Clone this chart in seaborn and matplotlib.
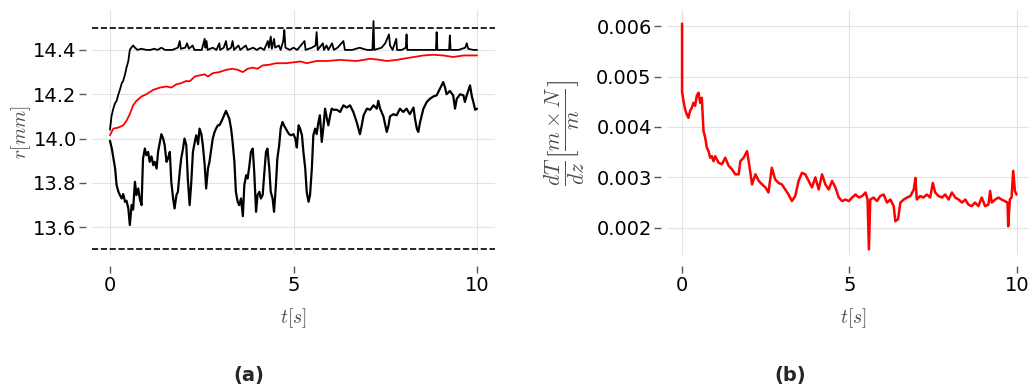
import matplotlib
matplotlib.use("Agg")
import matplotlib.pyplot as plt
import numpy as np
import seaborn as sns
import pandas as pd

# ---- (a) radius, upper / lower envelope and mean ----
t_up = [0.00, 0.04, 0.09, 0.14, 0.18, 0.23, 0.27, 0.32, 0.36, 0.41, 0.45, 0.50, 0.54, 0.58, 0.63,
        0.68, 0.75, 0.85, 1.00, 1.10, 1.20, 1.30, 1.40, 1.50, 1.70, 1.85, 1.90, 1.93, 2.05, 2.10,
        2.15, 2.25, 2.30, 2.50, 2.58, 2.60, 2.63, 2.66, 2.80, 2.90, 2.98, 3.00, 3.10, 3.16, 3.20,
        3.30, 3.34, 3.38, 3.50, 3.55, 3.70, 3.75, 3.90, 4.00, 4.10, 4.20, 4.30, 4.33, 4.38, 4.41,
        4.47, 4.50, 4.60, 4.65, 4.72, 4.75, 4.78, 4.90, 5.00, 5.10, 5.30, 5.33, 5.50, 5.60, 5.63,
        5.66, 5.80, 5.83, 5.90, 5.95, 6.05, 6.10, 6.20, 6.36, 6.40, 6.60, 6.80, 7.00, 7.15, 7.18,
        7.20, 7.40, 7.50, 7.55, 7.60, 7.63, 7.70, 7.80, 7.82, 7.95, 8.06, 8.08, 8.10, 8.30, 8.50,
        8.70, 8.88, 8.90, 8.92, 9.10, 9.24, 9.26, 9.28, 9.50, 9.68, 9.72, 9.76, 9.90, 10.00]
r_up = [14.04, 14.10, 14.135, 14.16, 14.17, 14.20, 14.22, 14.25, 14.26, 14.29, 14.32, 14.35, 14.40, 14.41, 14.42,
        14.41, 14.40, 14.405, 14.40, 14.40, 14.405, 14.40, 14.41, 14.40, 14.40, 14.41, 14.44, 14.405, 14.41, 14.43,
        14.405, 14.42, 14.40, 14.40, 14.45, 14.41, 14.44, 14.40, 14.41, 14.40, 14.43, 14.40, 14.41, 14.44, 14.40,
        14.41, 14.44, 14.40, 14.42, 14.40, 14.42, 14.40, 14.41, 14.40, 14.41, 14.40, 14.44, 14.41, 14.46, 14.405,
        14.45, 14.41, 14.42, 14.40, 14.44, 14.49, 14.41, 14.40, 14.41, 14.40, 14.44, 14.40, 14.41, 14.42, 14.48,
        14.40, 14.43, 14.40, 14.42, 14.40, 14.43, 14.40, 14.41, 14.44, 14.40, 14.40, 14.41, 14.40, 14.40, 14.53,
        14.40, 14.41, 14.43, 14.45, 14.47, 14.42, 14.40, 14.45, 14.40, 14.40, 14.41, 14.47, 14.40, 14.40, 14.40,
        14.40, 14.40, 14.48, 14.40, 14.40, 14.40, 14.465, 14.40, 14.40, 14.41, 14.43, 14.405, 14.40, 14.40]

t_mean = [0.00, 0.09, 0.23, 0.36, 0.45, 0.54, 0.63, 0.72, 0.86, 0.99, 1.18, 1.36, 1.54, 1.67, 1.81,
          1.94, 2.08, 2.17, 2.31, 2.44, 2.58, 2.67, 2.80, 2.98, 3.16, 3.34, 3.48, 3.62, 3.75, 3.89,
          4.02, 4.16, 4.34, 4.52, 4.79, 5.06, 5.18, 5.36, 5.63, 5.91, 6.27, 6.72, 7.09, 7.36, 7.54,
          7.81, 8.17, 8.54, 8.81, 9.08, 9.35, 9.63, 10.00]
r_mean = [14.015, 14.045, 14.05, 14.06, 14.08, 14.11, 14.15, 14.17, 14.19, 14.20, 14.22, 14.23, 14.235, 14.23, 14.245,
          14.25, 14.26, 14.258, 14.28, 14.285, 14.29, 14.28, 14.295, 14.30, 14.31, 14.315, 14.31, 14.30, 14.315, 14.32,
          14.315, 14.33, 14.333, 14.34, 14.34, 14.345, 14.348, 14.34, 14.35, 14.35, 14.355, 14.35, 14.36, 14.355, 14.35,
          14.355, 14.365, 14.375, 14.378, 14.375, 14.368, 14.375, 14.375]

t_low = [0.00, 0.05, 0.14, 0.18, 0.23, 0.27, 0.32, 0.36, 0.41, 0.45, 0.50, 0.54, 0.59, 0.63, 0.68,
         0.72, 0.77, 0.81, 0.86, 0.90, 0.95, 0.99, 1.04, 1.08, 1.13, 1.18, 1.22, 1.27, 1.31, 1.36,
         1.40, 1.45, 1.49, 1.54, 1.58, 1.63, 1.67, 1.72, 1.76, 1.81, 1.85, 1.90, 1.94, 1.99, 2.03,
         2.08, 2.12, 2.17, 2.21, 2.26, 2.31, 2.35, 2.40, 2.44, 2.49, 2.53, 2.58, 2.62, 2.67, 2.71,
         2.76, 2.80, 2.85, 2.89, 2.94, 2.98, 3.03, 3.07, 3.12, 3.16, 3.21, 3.25, 3.30, 3.34, 3.39,
         3.43, 3.48, 3.52, 3.57, 3.62, 3.66, 3.71, 3.75, 3.80, 3.84, 3.89, 3.93, 3.98, 4.02, 4.07,
         4.11, 4.16, 4.20, 4.25, 4.29, 4.34, 4.38, 4.43, 4.47, 4.52, 4.56, 4.61, 4.65, 4.70, 4.74,
         4.79, 4.84, 4.88, 4.93, 5.00, 5.05, 5.09, 5.14, 5.18, 5.23, 5.27, 5.32, 5.36, 5.41, 5.45,
         5.50, 5.54, 5.59, 5.63, 5.68, 5.72, 5.77, 5.82, 5.86, 5.91, 5.95, 6.00, 6.04, 6.09, 6.18,
         6.27, 6.36, 6.45, 6.54, 6.63, 6.72, 6.77, 6.81, 6.86, 6.91, 7.00, 7.09, 7.18, 7.27, 7.31,
         7.36, 7.45, 7.54, 7.59, 7.63, 7.72, 7.81, 7.90, 7.99, 8.08, 8.17, 8.27, 8.31, 8.36, 8.40,
         8.45, 8.54, 8.63, 8.72, 8.81, 8.90, 8.99, 9.08, 9.13, 9.17, 9.26, 9.35, 9.40, 9.45, 9.54,
         9.63, 9.67, 9.72, 9.81, 9.86, 9.90, 9.95, 10.00]
r_low = [13.99, 13.955, 13.865, 13.79, 13.76, 13.745, 13.73, 13.75, 13.715, 13.72, 13.685, 13.61, 13.70, 13.68, 13.805,
         13.745, 13.775, 13.73, 13.70, 13.91, 13.955, 13.925, 13.94, 13.895, 13.92, 13.88, 13.895, 13.865, 13.94, 13.985,
         14.02, 14.00, 13.97, 13.895, 13.91, 13.94, 13.805, 13.73, 13.685, 13.745, 13.76, 13.85, 13.91, 13.955, 14.00,
         13.97, 13.82, 13.70, 13.79, 13.94, 13.985, 14.015, 13.975, 14.045, 14.02, 13.97, 13.88, 13.775, 13.865, 13.895,
         13.955, 14.00, 14.03, 14.045, 14.06, 14.06, 14.075, 14.09, 14.11, 14.125, 14.105, 14.09, 14.045, 13.985, 13.895,
         13.76, 13.715, 13.70, 13.73, 13.65, 13.79, 13.835, 13.82, 13.88, 13.94, 13.955, 13.85, 13.67, 13.745, 13.76,
         13.73, 13.745, 13.835, 13.94, 13.955, 13.865, 13.76, 13.73, 13.67, 13.79, 13.91, 13.97, 14.045, 14.075, 14.06,
         14.045, 14.03, 14.02, 14.015, 14.02, 14.00, 13.96, 14.06, 14.045, 14.015, 13.94, 13.865, 13.76, 13.715, 13.745,
         13.865, 14.015, 14.045, 14.02, 14.075, 14.105, 13.985, 14.06, 14.135, 14.09, 14.06, 14.105, 14.135, 14.13, 14.13,
         14.12, 14.15, 14.14, 14.15, 14.12, 14.075, 14.045, 14.02, 14.06, 14.105, 14.135, 14.13, 14.15, 14.135, 14.17,
         14.135, 14.10, 14.03, 14.06, 14.10, 14.11, 14.105, 14.135, 14.12, 14.135, 14.11, 14.14, 14.09, 14.045, 14.03,
         14.075, 14.135, 14.165, 14.18, 14.19, 14.195, 14.225, 14.255, 14.23, 14.20, 14.215, 14.195, 14.135, 14.18, 14.20,
         14.195, 14.165, 14.195, 14.24, 14.19, 14.165, 14.13, 14.135]

r_max, r_min = 14.5, 13.5

# ---- (b) temperature gradient ----
t_grad = [0.00, 0.00, 0.00, 0.04, 0.09, 0.14, 0.19, 0.24, 0.29, 0.34, 0.39, 0.44, 0.49, 0.54, 0.59,
          0.64, 0.69, 0.74, 0.79, 0.84, 0.89, 0.94, 0.99, 1.09, 1.19, 1.29, 1.39, 1.49, 1.59, 1.69,
          1.74, 1.84, 1.94, 1.99, 2.09, 2.19, 2.29, 2.39, 2.49, 2.58, 2.68, 2.78, 2.88, 2.98, 3.08,
          3.18, 3.28, 3.38, 3.48, 3.58, 3.68, 3.78, 3.88, 3.98, 4.08, 4.18, 4.28, 4.38, 4.48, 4.58,
          4.68, 4.78, 4.88, 4.98, 5.08, 5.18, 5.28, 5.38, 5.48, 5.54, 5.58, 5.62, 5.72, 5.82, 5.92,
          6.02, 6.12, 6.22, 6.32, 6.37, 6.45, 6.52, 6.62, 6.72, 6.82, 6.92, 6.97, 7.01, 7.11, 7.21,
          7.31, 7.41, 7.49, 7.56, 7.66, 7.76, 7.86, 7.96, 8.06, 8.16, 8.26, 8.36, 8.46, 8.55, 8.65,
          8.75, 8.85, 8.95, 9.05, 9.15, 9.20, 9.25, 9.35, 9.45, 9.54, 9.64, 9.72, 9.74, 9.79, 9.84,
          9.89, 9.94, 9.99]
g_grad = [0.00605, 0.00500, 0.00470, 0.00452, 0.00435, 0.00425, 0.00418, 0.00432, 0.00438, 0.00448, 0.00442, 0.00462, 0.00468, 0.00448, 0.00458,
          0.00392, 0.00379, 0.00359, 0.00352, 0.00339, 0.00342, 0.00332, 0.00342, 0.00329, 0.00326, 0.00339, 0.00323, 0.00316, 0.00306, 0.00306,
          0.00332, 0.00339, 0.00352, 0.00332, 0.00286, 0.00306, 0.00293, 0.00286, 0.00280, 0.00270, 0.00319, 0.00296, 0.00289, 0.00286, 0.00276,
          0.00266, 0.00253, 0.00263, 0.00293, 0.00309, 0.00306, 0.00293, 0.00280, 0.00300, 0.00276, 0.00306, 0.00286, 0.00276, 0.00293, 0.00280,
          0.00260, 0.00253, 0.00256, 0.00253, 0.00260, 0.00266, 0.00260, 0.00263, 0.00270, 0.00256, 0.00157, 0.00256, 0.00260, 0.00253, 0.00263,
          0.00266, 0.00250, 0.00256, 0.00243, 0.00213, 0.00217, 0.00250, 0.00256, 0.00260, 0.00263, 0.00276, 0.00299, 0.00256, 0.00263, 0.00260,
          0.00266, 0.00260, 0.00289, 0.00270, 0.00263, 0.00260, 0.00266, 0.00256, 0.00270, 0.00260, 0.00256, 0.00250, 0.00256, 0.00246, 0.00243,
          0.00250, 0.00243, 0.00260, 0.00243, 0.00246, 0.00273, 0.00250, 0.00256, 0.00260, 0.00256, 0.00253, 0.00250, 0.00203, 0.00256, 0.00260,
          0.00313, 0.00273, 0.00266]

sns.set_style("whitegrid", {"grid.color": "#e3e3e3", "xtick.bottom": True, "ytick.left": True,
                            "xtick.color": "0.35", "ytick.color": "0.35"})
plt.rcParams["font.family"] = ["DejaVu Sans"]
plt.rcParams["mathtext.fontset"] = "cm"

fig = plt.figure(figsize=(10.29, 3.85), dpi=100)
ax1 = fig.add_axes([92 / 1029, 130 / 385, 403 / 1029, 245 / 385])
ax2 = fig.add_axes([667 / 1029, 130 / 385, 373 / 1029, 245 / 385])

sns.lineplot(x=t_low, y=r_low, ax=ax1, color="black", lw=1.6, estimator=None, sort=False)
sns.lineplot(x=t_up, y=r_up, ax=ax1, color="black", lw=1.3, estimator=None, sort=False)
sns.lineplot(x=t_mean, y=r_mean, ax=ax1, color="red", lw=1.3, estimator=None, sort=False)
ax1.axhline(r_max, color="black", ls="--", lw=1.2)
ax1.axhline(r_min, color="black", ls="--", lw=1.2)
ax1.set_xlim(-0.49, 10.49)
ax1.set_ylim(13.475, 14.58)
ax1.set_yticks([13.6, 13.8, 14.0, 14.2, 14.4])
ax1.set_ylabel("$r[mm]$", fontsize=14, color="0.3", labelpad=0)
ax1.set_xlabel("$t[s]$", fontsize=14, color="0.3", labelpad=8)

sns.lineplot(x=t_grad, y=g_grad, ax=ax2, color="red", lw=1.8, estimator=None, sort=False)
ax2.set_xlim(-0.45, 10.69)
ax2.set_ylim(0.00146, 0.00632)
ax2.set_yticks([0.002, 0.003, 0.004, 0.005, 0.006])
ax2.set_ylabel(r"$\frac{dT}{dz}[\frac{m\times N}{m}]$", fontsize=22, color="0.3", labelpad=6)
ax2.set_xlabel("$t[s]$", fontsize=14, color="0.3", labelpad=8)

for ax in (ax1, ax2):
    for s in ax.spines.values():
        s.set_visible(False)
    ax.spines["left"].set_position(("outward", 4))
    ax.spines["bottom"].set_position(("outward", 8))
    ax.set_xticks([0, 5, 10])
    ax.tick_params(labelsize=14, labelcolor="black", length=5, width=1, pad=2)

fig.text(249 / 1029, 1 - 375 / 385, "(a)", fontsize=14, fontweight="bold", ha="center", va="center")
fig.text(790 / 1029, 1 - 375 / 385, "(b)", fontsize=14, fontweight="bold", ha="center", va="center")

fig.savefig("out.png", dpi=100)
